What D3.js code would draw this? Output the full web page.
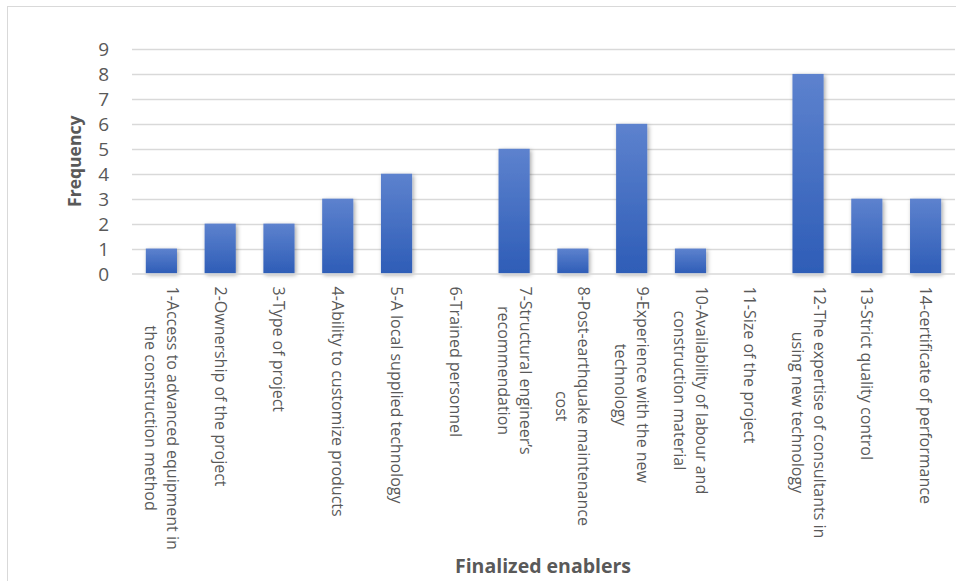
<!DOCTYPE html>
<html>
<head>
<meta charset="utf-8">
<script src="https://cdn.jsdelivr.net/npm/d3@7/dist/d3.min.js"></script>
<style>
  html, body { margin: 0; padding: 0; background: #fff; }
  svg { display: block; }
</style>
</head>
<body>
<svg id="chart" width="956" height="581"></svg>
<script>
// Enabler categories (each entry is a list of wrapped label lines)
const categories = [
  ["1-Access to advanced equipment in", "the construction method"],
  ["2-Ownership of the project"],
  ["3-Type of project"],
  ["4-Ability to customize products"],
  ["5-A local supplied technology"],
  ["6-Trained personnel"],
  ["7-Structural engineer\u2019s", "recommendation"],
  ["8-Post-earthquake maintenance", "cost"],
  ["9-Experience with the new", "technology"],
  ["10-Availability of labour and", "construction material"],
  ["11-Size of the project"],
  ["12-The expertise of consultants in", "using new technology"],
  ["13-Strict quality control"],
  ["14-certificate of performance"]
];
const frequency = [1, 2, 2, 3, 4, 0, 5, 1, 6, 1, 0, 8, 3, 3];
const yTicks = [0, 1, 2, 3, 4, 5, 6, 7, 8, 9];
const xTitle = "Finalized enablers";
const yTitle = "Frequency";

const svg = d3.select("#chart");
const font = "'Open Sans', 'Noto Sans', sans-serif";
const textGrey = "#595959";

const plot = { left: 132, right: 955, top: 49, bottom: 273.5 };

// Gradient fill and soft shadow for the bars
const defs = svg.append("defs");
const grad = defs.append("linearGradient")
  .attr("id", "barFill").attr("x1", 0).attr("y1", 0).attr("x2", 0).attr("y2", 1);
grad.append("stop").attr("offset", "0%").attr("stop-color", "#5d82ce");
grad.append("stop").attr("offset", "100%").attr("stop-color", "#2e5db7");
const shadow = defs.append("filter").attr("id", "barShadow")
  .attr("x", "-40%").attr("y", "-20%").attr("width", "180%").attr("height", "140%");
shadow.append("feDropShadow")
  .attr("dx", 1.5).attr("dy", 1.5).attr("stdDeviation", 2.2)
  .attr("flood-color", "#000").attr("flood-opacity", 0.35);

// Outer chart frame
svg.append("rect")
  .attr("x", 7.5).attr("y", 6.5).attr("width", 970).attr("height", 600)
  .attr("fill", "none").attr("stroke", "#d9d9d9").attr("stroke-width", 1);

const x = d3.scaleBand()
  .domain(d3.range(categories.length))
  .range([plot.left, plot.right])
  .paddingInner(0.47).paddingOuter(0.235);

const y = d3.scaleLinear().domain([0, 9]).range([plot.bottom, plot.top]);

// Horizontal gridlines
svg.append("g")
  .selectAll("line")
  .data(yTicks.filter(d => d > 0))
  .join("line")
  .attr("x1", plot.left).attr("x2", plot.right)
  .attr("y1", d => Math.round(y(d)) + 0.5).attr("y2", d => Math.round(y(d)) + 0.5)
  .attr("stroke", "#d9d9d9").attr("stroke-width", 1.3);

// Y axis tick labels
const yAxis = d3.axisLeft(y).tickValues(yTicks).tickSize(0).tickPadding(0);
const yg = svg.append("g").attr("transform", `translate(109,0)`).call(yAxis);
yg.select(".domain").remove();
yg.selectAll("text")
  .attr("font-family", font).attr("font-size", 19).attr("fill", textGrey)
  .attr("dy", "0.35em");

// Bars
svg.append("g")
  .selectAll("rect")
  .data(frequency)
  .join("rect")
  .attr("x", (d, i) => x(i))
  .attr("width", x.bandwidth())
  .attr("y", d => y(d))
  .attr("height", d => y(0) - y(d))
  .attr("fill", "url(#barFill)")
  .attr("filter", "url(#barShadow)")
  .style("display", d => d > 0 ? null : "none");

// Category axis line
svg.append("line")
  .attr("x1", plot.left).attr("x2", plot.right)
  .attr("y1", plot.bottom + 0.5).attr("y2", plot.bottom + 0.5)
  .attr("stroke", "#d9d9d9").attr("stroke-width", 1.6);

// Rotated, wrapped category labels (read top to bottom, lines centred)
const lineGap = 22;
const labelTop = plot.bottom + 13;
const xAxis = d3.axisBottom(x).tickSize(0).tickFormat("");
const xg = svg.append("g").attr("transform", `translate(0,${plot.bottom})`).call(xAxis);
xg.select(".domain").remove();
categories.forEach((lines, i) => {
  const cx = x(i) + x.bandwidth() / 2;
  const t = svg.append("text")
    .attr("font-family", font).attr("font-size", 16).attr("fill", textGrey)
    .attr("text-anchor", "middle");
  const spans = lines.map((ln, k) => t.append("tspan").text(ln));
  const widths = spans.map(s => s.node().getComputedTextLength());
  const maxW = d3.max(widths);
  const shift = -(lines.length - 1) * lineGap / 2;
  spans.forEach((s, k) => {
    s.attr("x", maxW / 2).attr("y", shift + k * lineGap + 5.5);
  });
  t.attr("transform", `translate(${cx},${labelTop}) rotate(90)`);
});

// Axis titles
svg.append("text")
  .attr("transform", `translate(81,${(plot.top + plot.bottom) / 2}) rotate(-90)`)
  .attr("text-anchor", "middle")
  .attr("font-family", font).attr("font-size", 17.5).attr("font-weight", "bold")
  .attr("fill", textGrey)
  .text(yTitle);

svg.append("text")
  .attr("x", 543).attr("y", 573)
  .attr("text-anchor", "middle")
  .attr("font-family", font).attr("font-size", 19.5).attr("font-weight", "bold")
  .attr("fill", textGrey)
  .text(xTitle);
</script>
</body>
</html>
